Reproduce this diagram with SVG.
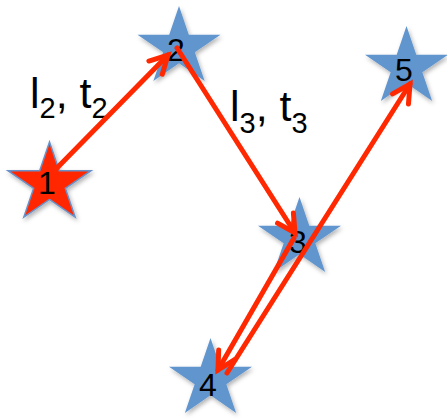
<svg xmlns="http://www.w3.org/2000/svg" width="447" height="420" viewBox="0 0 447 420">
<style>
.blue{fill:#6195CE;}
.red{fill:#FF2800;stroke:#6A90C8;stroke-width:1.5;}
.num{font-family:"Liberation Sans",Arial,sans-serif;font-size:32px;fill:#000;text-anchor:middle;}
.lbl{font-family:"Liberation Sans",Arial,sans-serif;font-size:43px;fill:#000;}
.sub{font-size:29px;}
.conn{fill:none;stroke:#FF2800;stroke-width:5;stroke-linecap:round;marker-end:url(#ah);}
</style>
<defs>
<polygon id="star" points="41.5,0 51.3,28.65 83,28.65 57.35,46.35 67.15,75 41.5,57.3 15.85,75 25.65,46.35 0,28.65 31.7,28.65"/>
<filter id="sh" x="-20%" y="-20%" width="150%" height="150%">
<feDropShadow dx="1.5" dy="2.5" stdDeviation="2" flood-color="#000" flood-opacity="0.3"/>
</filter>
<marker id="ah" markerUnits="userSpaceOnUse" viewBox="-24 -14 28 28" refX="0" refY="0" markerWidth="28" markerHeight="28" orient="auto" overflow="visible">
<path d="M-17.7,-9.4 L0,0 L-17.7,9.4" fill="none" stroke="#FF2800" stroke-width="5" stroke-linejoin="miter" stroke-linecap="round"/>
</marker>
</defs>
<g id="node1"><use href="#star" class="red" x="8" y="142" filter="url(#sh)"/><text class="num" x="47" y="194">1</text></g>
<g id="node2"><use href="#star" class="blue" x="137.5" y="6" filter="url(#sh)"/><text class="num" x="176" y="61">2</text></g>
<g id="node3"><use href="#star" class="blue" x="258" y="197" filter="url(#sh)"/><text class="num" x="298" y="253">3</text></g>
<g id="node4"><use href="#star" class="blue" x="169" y="338" filter="url(#sh)"/><text class="num" x="208" y="396">4</text></g>
<g id="node5"><use href="#star" class="blue" x="365" y="26" filter="url(#sh)"/><text class="num" x="404" y="81">5</text></g>
<g id="labels">
<text class="lbl" x="30" y="108">l<tspan class="sub" dy="10">2</tspan><tspan dy="-10">, t</tspan><tspan class="sub" dy="10">2</tspan></text>
<text class="lbl" x="230" y="121">l<tspan class="sub" dy="12">3</tspan><tspan dy="-12">, t</tspan><tspan class="sub" dy="12">3</tspan></text>
</g>
<g id="connectors">
<line class="conn" x1="55" y1="170" x2="168" y2="55"/>
<line class="conn" x1="177" y1="48" x2="295" y2="233"/>
<line class="conn" x1="294" y1="238" x2="218" y2="370"/>
<line class="conn" x1="227" y1="373" x2="410" y2="84"/>
</g>
</svg>
